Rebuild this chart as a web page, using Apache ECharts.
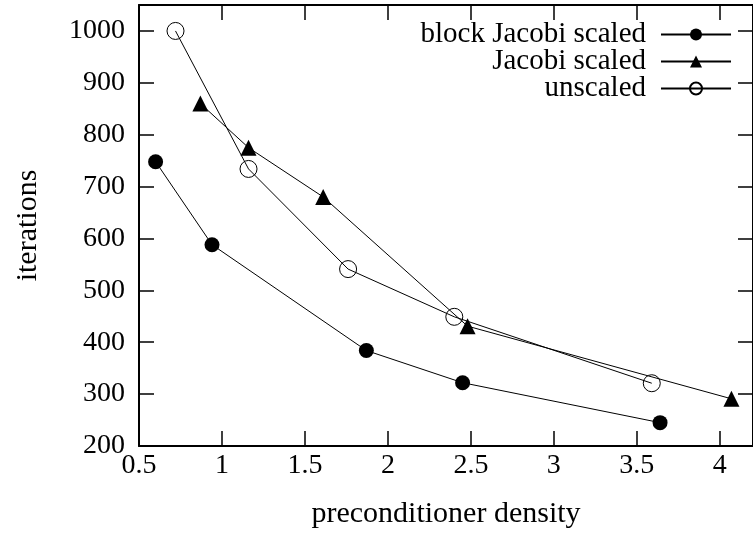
<!DOCTYPE html>
<html><head><meta charset="utf-8">
<script src="https://cdn.jsdelivr.net/npm/echarts@6/dist/echarts.min.js"></script>
<style>html,body{margin:0;padding:0;background:#fff}#c{width:753px;height:534px}</style>
</head><body><div id="c"></div>
<script>
// ---- data ----
const seriesNames = ['block Jacobi scaled', 'Jacobi scaled', 'unscaled'];
const blockJacobiX = [0.60, 0.94, 1.87, 2.45, 3.64];
const blockJacobiY = [748, 588, 384, 322, 245];
const jacobiX = [0.87, 1.16, 1.61, 2.48, 4.07];
const jacobiY = [860, 775, 680, 431, 291];
const unscaledX = [0.72, 1.16, 1.76, 2.40, 3.59];
const unscaledY = [1000, 734, 541, 449, 321];
const xRange = [0.5, 4.2], xStep = 0.5;
const yRange = [200, 1050], yStep = 100;
const xTitle = 'preconditioner density';
const yTitle = 'iterations';

const FONT = 'Liberation Serif';
const zip = (xs, ys) => xs.map((x, i) => [x, ys[i]]);

const axisBase = (kind, pos, show) => ({
  type: 'value',
  position: pos,
  min: kind === 'x' ? xRange[0] : yRange[0],
  max: kind === 'x' ? xRange[1] : yRange[1],
  interval: kind === 'x' ? xStep : yStep,
  axisLine: {show: true, onZero: false, lineStyle: {color: '#000', width: 2}},
  axisTick: {show: true, inside: true, length: 15, lineStyle: {color: '#000', width: 1.5}},
  splitLine: {show: false},
  axisLabel: {show: show, showMaxLabel: false, color: '#000', fontFamily: FONT, fontSize: 28,
              margin: kind === 'x' ? 6 : 14, formatter: v => String(v)}
});

const chart = echarts.init(document.getElementById('c'), null, {renderer: 'canvas'});
chart.setOption({
  animation: false,
  backgroundColor: '#fff',
  grid: {left: 139, right: -6, top: 5, bottom: 87, containLabel: false},
  xAxis: [
    Object.assign(axisBase('x', 'bottom', true), {
      name: xTitle, nameLocation: 'middle', nameGap: 53,
      nameTextStyle: {color: '#000', fontFamily: FONT, fontSize: 30}
    }),
    axisBase('x', 'top', false)
  ],
  yAxis: [
    Object.assign(axisBase('y', 'left', true), {
      name: yTitle, nameLocation: 'middle', nameGap: 96,
      nameTextStyle: {color: '#000', fontFamily: FONT, fontSize: 30}
    }),
    axisBase('y', 'right', false)
  ],
  legend: {
    data: seriesNames,
    orient: 'vertical',
    right: 16, top: 15,
    align: 'right',
    itemWidth: 70, itemHeight: 15, itemGap: -2,
    textStyle: {color: '#000', fontFamily: FONT, fontSize: 29, padding: [0, 10, 0, 0]}
  },
  series: [
    {
      name: seriesNames[0], type: 'line', xAxisIndex: 0, yAxisIndex: 0,
      data: zip(blockJacobiX, blockJacobiY),
      symbol: 'circle', symbolSize: 15,
      itemStyle: {color: '#000'},
      lineStyle: {color: '#000', width: 1}
    },
    {
      name: seriesNames[1], type: 'line', xAxisIndex: 0, yAxisIndex: 0,
      data: zip(jacobiX, jacobiY),
      symbol: 'triangle', symbolSize: 16,
      itemStyle: {color: '#000'},
      lineStyle: {color: '#000', width: 1}
    },
    {
      name: seriesNames[2], type: 'line', xAxisIndex: 0, yAxisIndex: 0,
      data: zip(unscaledX, unscaledY),
      symbol: 'circle', symbolSize: 17,
      itemStyle: {color: 'transparent', borderColor: '#000', borderWidth: 1},
      lineStyle: {color: '#000', width: 1}
    }
  ]
});
</script>
</body></html>
